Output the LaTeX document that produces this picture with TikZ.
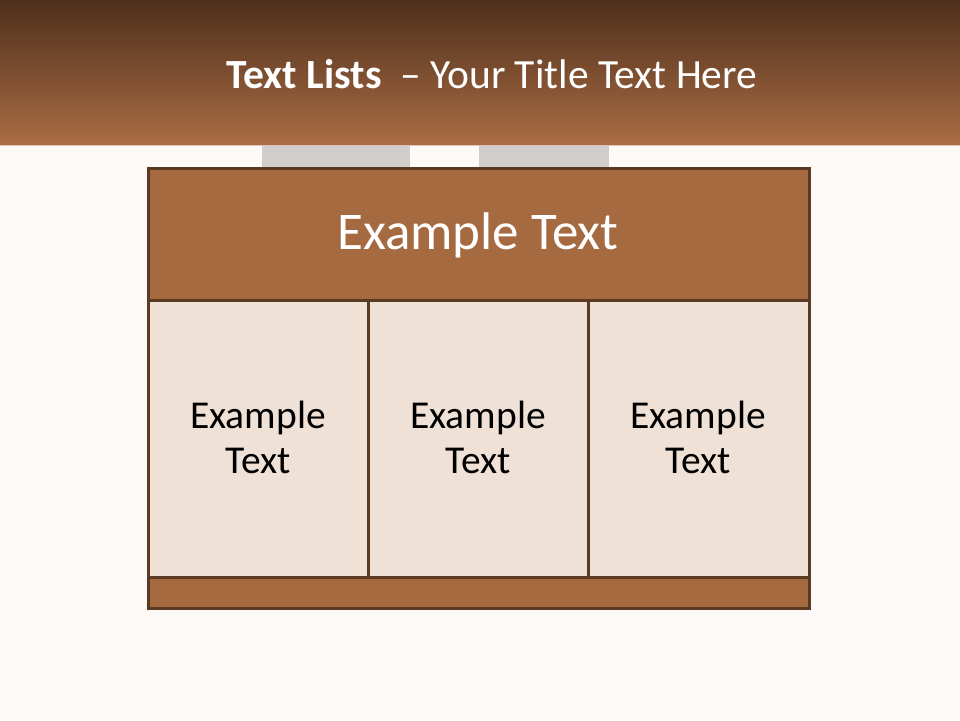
\documentclass[tikz,border=0pt]{standalone}
\usepackage{fontspec}
\setmainfont{Carlito}
\definecolor{bgc}{HTML}{FCF9F6}
\definecolor{hdtop}{HTML}{4E2F1C}
\definecolor{hdbot}{HTML}{AB6D44}
\definecolor{brd}{HTML}{5A3A22}
\definecolor{tan}{HTML}{A66A40}
\definecolor{cellc}{HTML}{F0E1D7}
\definecolor{legc}{HTML}{D0CDCD}
\tikzset{
  frame/.style={draw=brd, line width=3pt},
  hdrtext/.style={text=white, font=\fontsize{53}{60}\selectfont},
  celltext/.style={text=black, align=center, font=\fontsize{39.5}{45}\selectfont}
}
\begin{document}
\begin{tikzpicture}[x=1pt,y=-1pt]
\useasboundingbox (0,0) rectangle (960,720);
\fill[bgc] (0,0) rectangle (960,720);
% header band
\shade[top color=hdtop, bottom color=hdbot] (0,0) rectangle (960,145);
\draw[color=hdbot!40!white, line width=1pt] (0,145.5) -- (960,145.5);
\node[text=white, anchor=base, font=\fontsize{41.5}{48}\selectfont] (title) at (492,88)
  {\textbf{Text Lists}\ \ – Your Title Text Here};
% faint shapes behind the table
\fill[color=legc] (262,146) rectangle (410,168);
\fill[color=legc] (479,146) rectangle (609,168);
% table
\fill[tan] (148,168) rectangle (809,300);
\fill[cellc] (148,300) rectangle (809,577);
\fill[tan] (148,577) rectangle (809,608);
\draw[frame] (148,168) rectangle (809,608);
\draw[frame] (148,300) -- (809,300);
\draw[frame] (148,577) -- (809,577);
\draw[frame] (368,300) -- (368,577);
\draw[frame] (588,300) -- (588,577);
\node[hdrtext] (head) at (478,235) {Example Text};
\node[celltext] (c1) at (258,437) {Example\\Text};
\node[celltext] (c2) at (478,437) {Example\\Text};
\node[celltext] (c3) at (698,437) {Example\\Text};
\end{tikzpicture}
\end{document}
